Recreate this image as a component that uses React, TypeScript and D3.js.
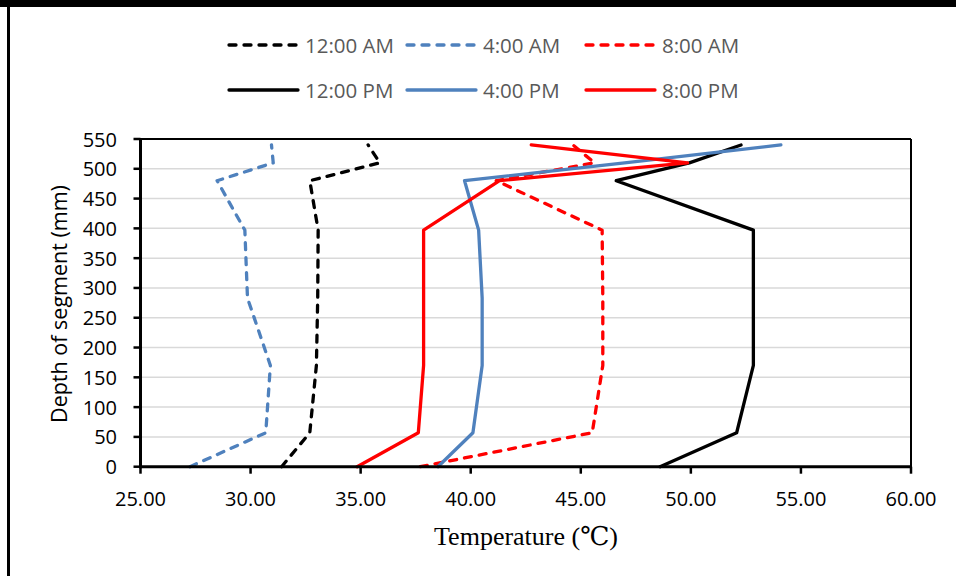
import React from "react";
import * as d3 from "d3";

// Depth of each measuring point in the segment (mm)
const depths = [0, 57, 170, 283, 397, 480, 510, 540];

// Temperature (°C) at each depth, one array per time of day
const t1200AM = [31.41, 32.69, 32.99, 33.05, 33.07, 32.69, 35.87, 35.34];
const t0400AM = [27.25, 30.69, 30.9, 29.86, 29.74, 28.48, 31.03, 30.95];
const t0800AM = [37.71, 45.52, 46.0, 46.0, 45.97, 41.16, 45.62, 44.64];
const t1200PM = [48.6, 52.08, 52.84, 52.84, 52.84, 46.61, 49.93, 52.28];
const t0400PM = [38.51, 40.1, 40.52, 40.52, 40.36, 39.72, 46.99, 54.09];
const t0800PM = [34.84, 37.62, 37.86, 37.86, 37.86, 41.31, 49.85, 42.75];

const seriesNames = ["12:00 AM", "4:00 AM", "8:00 AM", "12:00 PM", "4:00 PM", "8:00 PM"];
const seriesValues = [t1200AM, t0400AM, t0800AM, t1200PM, t0400PM, t0800PM];
const seriesColors = ["#000000", "#4F81BD", "#FF0000", "#000000", "#4F81BD", "#FF0000"];
const seriesDashed = [true, true, true, false, false, false];

const xTicks = [25, 30, 35, 40, 45, 50, 55, 60];
const yTicks = [0, 50, 100, 150, 200, 250, 300, 350, 400, 450, 500, 550];

const W = 956;
const H = 576;
const left = 140.5;
const right = 911;
const top = 139;
const bottom = 466.7;

export default function App() {
  const x = d3.scaleLinear().domain([25, 60]).range([left, right]);
  const y = d3.scaleLinear().domain([0, 550]).range([bottom, top]);

  const line = d3
    .line<[number, number]>()
    .x((d) => x(d[0]))
    .y((d) => y(d[1]));

  const sansFont = "'Open Sans', 'Noto Sans', sans-serif";
  const serifFont = "'Liberation Serif', 'DejaVu Serif', serif";
  const dash = "7,8";

  const legendCols = [229, 407, 586];
  const legendRows = [45, 90];

  return (
    <svg
      width={W}
      height={H}
      style={{ position: "absolute", left: 0, top: 0, background: "#fff" }}
    >
      {/* outer frame */}
      <rect x={0} y={0} width={W} height={7} fill="#000" />
      <line x1={8.5} x2={8.5} y1={7} y2={H} stroke="#000" strokeWidth={3} />

      {/* horizontal gridlines */}
      {yTicks
        .filter((t) => t > 0 && t < 550)
        .map((t) => (
          <line
            key={"g" + t}
            x1={left}
            x2={right}
            y1={y(t)}
            y2={y(t)}
            stroke="#D9D9D9"
            strokeWidth={1.5}
          />
        ))}

      {/* plot border top/right */}
      <line x1={left} x2={right} y1={top} y2={top} stroke="#000" strokeWidth={2} />
      <line x1={right} x2={right} y1={top} y2={bottom} stroke="#000" strokeWidth={2} />

      {/* series */}
      {seriesValues.map((vals, i) => {
        const pts: [number, number][] = vals.map((v, k) => [v, depths[k]]);
        return (
          <path
            key={"s" + i}
            d={line(pts) || ""}
            fill="none"
            stroke={seriesColors[i]}
            strokeWidth={3.3}
            strokeLinejoin="round"
            strokeLinecap="round"
            strokeDasharray={seriesDashed[i] ? dash : undefined}
          />
        );
      })}

      {/* axes */}
      <line x1={left} x2={left} y1={top - 1} y2={bottom + 1.5} stroke="#000" strokeWidth={3} />
      <line x1={left - 1.5} x2={right + 1} y1={bottom} y2={bottom} stroke="#000" strokeWidth={3} />

      {yTicks.map((t) => (
        <g key={"y" + t}>
          <line x1={left - 7} x2={left} y1={y(t)} y2={y(t)} stroke="#000" strokeWidth={2.5} />
          <text
            x={117}
            y={y(t)}
            textAnchor="end"
            dominantBaseline="central"
            fontFamily={sansFont}
            fontSize={20}
            fill="#000"
          >
            {t}
          </text>
        </g>
      ))}

      {xTicks.map((t) => (
        <g key={"x" + t}>
          <line x1={x(t)} x2={x(t)} y1={bottom} y2={bottom + 7} stroke="#000" strokeWidth={2.5} />
          <text
            x={x(t)}
            y={498}
            textAnchor="middle"
            dominantBaseline="central"
            fontFamily={sansFont}
            fontSize={20}
            fill="#000"
          >
            {t.toFixed(2)}
          </text>
        </g>
      ))}

      {/* axis titles */}
      <text
        transform={`translate(67,304) rotate(-90)`}
        textAnchor="middle"
        fontFamily={sansFont}
        fontSize={21.5}
        fill="#000"
      >
        Depth of segment (mm)
      </text>
      <text
        x={526}
        y={545}
        textAnchor="middle"
        fontFamily={serifFont}
        fontSize={26}
        fill="#000"
      >
        Temperature (℃)
      </text>

      {/* legend */}
      {seriesNames.map((name, i) => {
        const cx = legendCols[i % 3];
        const cy = legendRows[Math.floor(i / 3)];
        return (
          <g key={"l" + i}>
            <line
              x1={cx}
              x2={cx + 69}
              y1={cy}
              y2={cy}
              stroke={seriesColors[i]}
              strokeWidth={3.3}
              strokeLinecap="round"
              strokeDasharray={seriesDashed[i] ? dash : undefined}
            />
            <text
              x={cx + 76}
              y={cy}
              dominantBaseline="central"
              fontFamily={sansFont}
              fontSize={20.5}
              fill="#595959"
            >
              {name}
            </text>
          </g>
        );
      })}
    </svg>
  );
}
